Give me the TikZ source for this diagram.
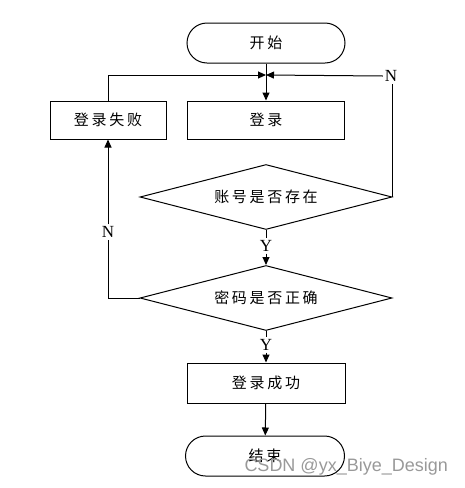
\documentclass[tikz,border=0pt]{standalone}
\usepackage{fontspec}
\setmainfont{Liberation Serif}
\setsansfont{Liberation Sans}
\newfontfamily\cjk[LetterSpace=18]{Noto Sans CJK SC}
\usetikzlibrary{shapes.geometric,arrows.meta}
\begin{document}
\begin{tikzpicture}[x=1pt,y=-1pt,line width=1pt,
  arr/.style={-{Triangle[length=8pt,width=7pt]}},
  term/.style={draw,rounded corners=20pt,minimum width=158pt,minimum height=40pt,inner sep=0pt,font=\cjk\fontsize{15}{15}\selectfont},
  proc/.style={draw,minimum height=38pt,inner sep=0pt,font=\cjk\fontsize{15}{15}\selectfont},
  dec/.style={draw,diamond,aspect=3.9,minimum width=252pt,minimum height=65pt,inner sep=0pt,font=\cjk\fontsize{15}{15}\selectfont},
  lab/.style={inner sep=1.5pt,font=\fontsize{17}{17}\selectfont}]
\useasboundingbox (0,0) rectangle (464,488);
\node[term] (start) at (266,43) {开始};
\node[proc,minimum width=157pt] (login) at (266,120) {登录};
\node[proc,minimum width=116pt] (fail) at (108,120) {登录失败};
\node[dec] (d1) at (266,197) {账号是否存在};
\node[dec] (d2) at (266,298) {密码是否正确};
\node[proc,minimum width=158pt,minimum height=40pt] (ok) at (266,383) {登录成功};
\node[term,minimum width=159pt] (end) at (265,456) {结束};
\coordinate (j) at (266,75);
\node[lab] (nr) at (391,76) {N};
\node[lab] (nl) at (108,232) {N};
\node[lab] (y1) at (266,246) {Y};
\node[lab] (y2) at (266,345) {Y};
\draw[arr] (start) -- (login);
\draw[arr] (fail.north) |- (j);
\draw (d1.east) -- (d1.east |- nr.south);
\draw[arr] (nr.west) -- (j);
\draw (d1.south) -- (y1.north);
\draw[arr] (y1.south) -- (d2.north);
\draw (d2.west) -| (nl.south);
\draw[arr] (nl.north) -- (fail.south);
\draw (d2.south) -- (y2.north);
\draw[arr] (y2.south) -- (ok.north);
\draw[arr] (ok) -- (end);
\node[font=\sffamily\fontsize{18}{18}\selectfont,text=black!40,inner sep=0pt,anchor=west] (wm) at (244,467) {CSDN @yx\_Biye\_Design};
\end{tikzpicture}
\end{document}
